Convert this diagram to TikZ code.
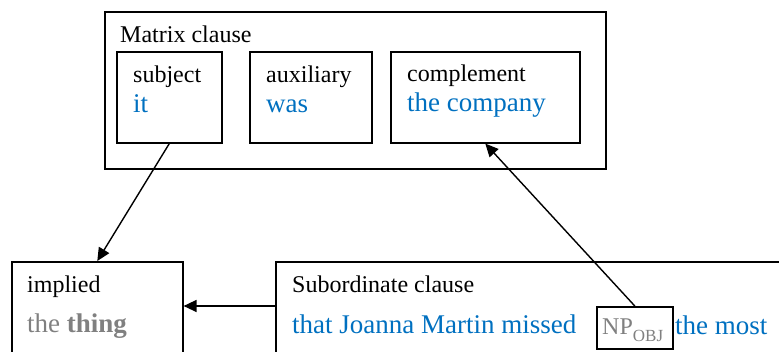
\documentclass[tikz,border=0pt]{standalone}
\usepackage{fontspec}
\setmainfont{Liberation Serif}
\usetikzlibrary{arrows.meta}
\definecolor{wblue}{RGB}{0,112,192}
\definecolor{wgrey}{RGB}{128,128,128}
\tikzset{
  box/.style={draw=black, line width=1.6pt, inner sep=0pt, anchor=north west},
  lbl/.style={inner sep=0pt, anchor=base west, font=\fontsize{24}{28}\selectfont},
  word/.style={inner sep=0pt, anchor=base west, text=wblue, font=\fontsize{27}{32}\selectfont},
  link/.style={line width=1.4pt, -{Triangle[length=13pt,width=12pt]}}
}
\begin{document}
\begin{tikzpicture}[x=1pt,y=-1pt]
\useasboundingbox (0,0) rectangle (779,352);
\clip (0,0) rectangle (779,352);
% boxes
\node[box, minimum width=501pt, minimum height=157pt] (matrix) at (104,11) {};
\node[box, minimum width=105pt, minimum height=91pt] (subj) at (116,51) {};
\node[box, minimum width=122pt, minimum height=91pt] (aux) at (249,51) {};
\node[box, minimum width=189pt, minimum height=91pt] (comp) at (390,51) {};
\node[box, minimum width=171pt, minimum height=110pt] (impl) at (11,261) {};
\node[box, minimum width=520pt, minimum height=110pt] (sub) at (275,261) {};
\node[box, draw=black, minimum width=76pt, minimum height=42pt] (np) at (596,306) {};
% texts
\node[lbl] (tmatrix) at (120,43) {Matrix clause};
\node[lbl] (tsubj) at (133,83) {subject};
\node[word] (wit) at (133,113) {it};
\node[lbl] (taux) at (266,83) {auxiliary};
\node[word] (wwas) at (266,113) {was};
\node[lbl] (tcomp) at (407,82) {complement};
\node[word] (wcomp) at (407,112) {the company};
\node[lbl] (timpl) at (27,293) {implied};
\node[word, text=wgrey] (wthing) at (27,333) {the \textbf{thing}};
\node[lbl] (tsub) at (292,293) {Subordinate clause};
\node[word] (wsub) at (292,334) {that Joanna Martin missed};
\node[lbl, text=wgrey] (tnp) at (602,335) {NP\raisebox{-7pt}{\fontsize{17}{20}\selectfont OBJ}};
\node[word] (wmost) at (675,335) {the most};
% connectors
\coordinate (ay) at (0,306);
\draw[link] (subj.south) -- (impl.north);
\draw[link] (np.north) -- (comp.south);
\draw[link] (sub.west |- ay) -- (impl.east |- ay);
\end{tikzpicture}
\end{document}
